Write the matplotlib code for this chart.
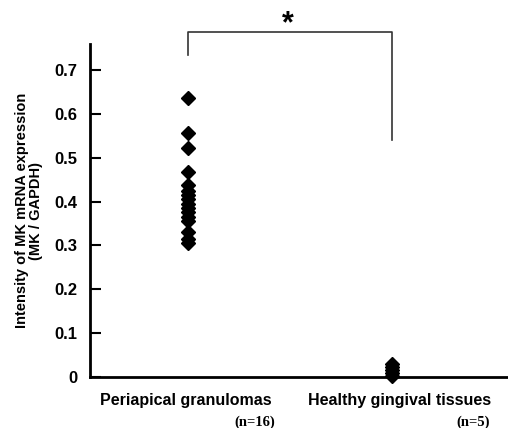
import numpy as np
import matplotlib.pyplot as plt
from matplotlib import transforms

groups = ["Periapical granulomas", "Healthy gingival tissues"]
group_n = ["(n=16)", "(n=5)"]
granulomas = [0.635, 0.556, 0.522, 0.468, 0.437, 0.425, 0.415, 0.405,
              0.395, 0.385, 0.375, 0.365, 0.355, 0.33, 0.315, 0.305]
healthy = [0.03, 0.022, 0.015, 0.008, 0.002]
yticks = [0, 0.1, 0.2, 0.3, 0.4, 0.5, 0.6, 0.7]
ytick_labels = ["0", "0.1", "0.2", "0.3", "0.4", "0.5", "0.6", "0.7"]

plt.rcParams['font.family'] = ['Liberation Sans', 'DejaVu Sans']

W, H = 508, 428
fig = plt.figure(figsize=(W / 100, H / 100), dpi=100)
ax = fig.add_axes([90 / W, (H - 377) / H, (508 - 90) / W, (377 - 44) / H])

xpos = [1, 2]
ax.plot([xpos[0]] * len(granulomas), granulomas, 'D', color='black',
        markersize=7.5, clip_on=False)
ax.plot([xpos[1]] * len(healthy), healthy, 'D', color='black',
        markersize=7.5, clip_on=False)

ax.set_xlim(0.52, 2.57)
ax.set_ylim(0, 0.759)
ax.spines['top'].set_visible(False)
ax.spines['right'].set_visible(False)
ax.spines['left'].set_linewidth(2)
ax.spines['bottom'].set_linewidth(2)
ax.set_xticks([])
ax.set_yticks(yticks)
ax.set_yticklabels(ytick_labels, fontsize=12, fontweight='bold')
ax.tick_params(axis='y', direction='in', length=8, width=1.5, pad=9)

ax.set_ylabel("Intensity of MK mRNA expression\n(MK / GAPDH)",
              fontsize=10.5, fontweight='bold', labelpad=8, linespacing=1.0)

# category labels below the axis
trans = transforms.blended_transform_factory(ax.transData, ax.transAxes)
name_x = [0.99, 2.04]
n_x = [1.33, 2.40]
for i in range(2):
  ax.text(name_x[i], -0.07, groups[i], transform=trans, ha='center', va='center',
          fontsize=11.5, fontweight='bold')
  ax.text(n_x[i], -0.135, group_n[i], transform=trans, ha='center', va='center',
          fontsize=10.5, fontweight='bold', family=['Liberation Serif', 'DejaVu Serif'])

# significance bracket
ax.plot([1, 1, 2, 2], [0.733, 0.786, 0.786, 0.54], color='#333333', lw=1.2,
        clip_on=False)
ax.text(1.49, 0.805, "*", ha='center', va='center', fontsize=22, fontweight='bold')

plt.savefig("out.png", dpi=100)
